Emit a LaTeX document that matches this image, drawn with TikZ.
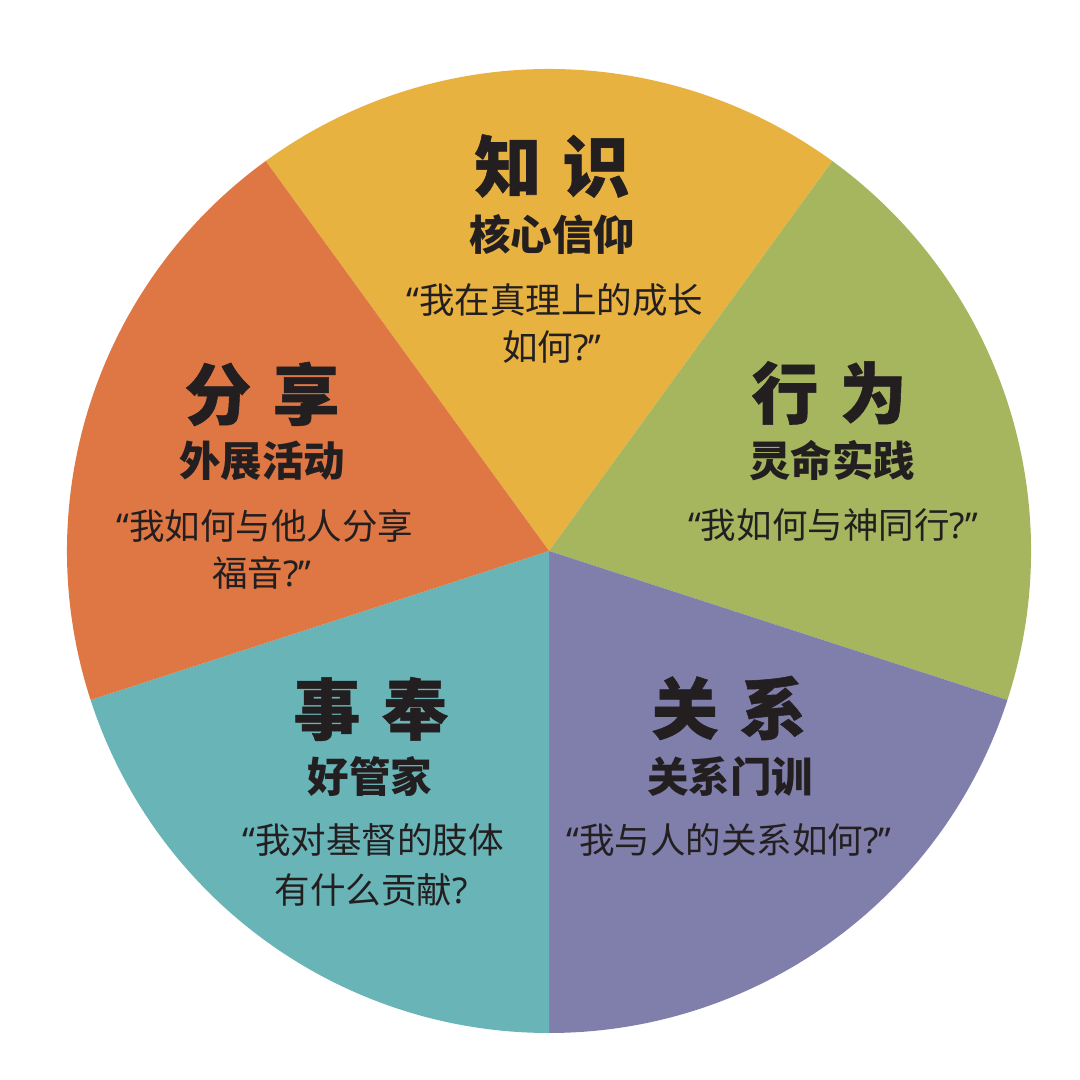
\documentclass[tikz,border=0pt]{standalone}
\usepackage{fontspec}
\setmainfont{Noto Sans CJK SC}
\newfontfamily\heavyfont[BoldFeatures={FakeBold=0.8}]{Noto Sans CJK SC}
\newfontfamily\latinq{Noto Sans}
\definecolor{ink}{HTML}{231F20}
\definecolor{knowC}{HTML}{E8B241}
\definecolor{actC}{HTML}{A5B65E}
\definecolor{relC}{HTML}{807FAC}
\definecolor{servC}{HTML}{69B4B7}
\definecolor{shareC}{HTML}{DE7743}

\begin{document}
\begin{tikzpicture}[x=0.01cm,y=0.01cm,
 ttl/.style={font=\fontsize{19}{22}\selectfont\heavyfont\bfseries,text=ink,inner sep=0pt},
 sub/.style={font=\fontsize{11.8}{14}\selectfont\bfseries,text=ink,inner sep=0pt},
 qt/.style={font=\fontsize{10.1}{14}\selectfont,text=ink,inner sep=0pt}]
\useasboundingbox (0,0) rectangle (1080,1080);
\coordinate (c) at (549,529);
% sectors
\foreach \a/\col in {54/knowC,-18/actC,-90/relC,198/servC,126/shareC}{
 \fill[\col] (c) -- ++(\a:482) arc[start angle=\a,delta angle=72,radius=482] -- cycle;}
% knowledge
\node[ttl] (t1) at (552,914) {知\hspace{0.32em}识};
\node[sub] (s1) at (552,845) {核心信仰};
\node[qt] (q1a) at (555,780) {{\latinq “}我在真理上的成长};
\node[qt] (q1b) at (552,733) {如何{\latinq ?”}};
% behaviour
\node[ttl] (t2) at (829,687) {行\hspace{0.32em}为};
\node[sub] (s2) at (832,619) {灵命实践};
\node[qt] (q2a) at (833,555) {{\latinq “}我如何与神同行{\latinq ?”}};
% relationship
\node[ttl] (t3) at (729,372) {关\hspace{0.32em}系};
\node[sub] (s3) at (730,303) {关系门训};
\node[qt] (q3a) at (729,240) {{\latinq “}我与人的关系如何{\latinq ?”}};
% service
\node[ttl] (t4) at (371,371) {事\hspace{0.32em}奉};
\node[sub] (s4) at (370,303) {好管家};
\node[qt] (q4a) at (373,240) {{\latinq “}我对基督的肢体};
\node[qt] (q4b) at (371,190) {有什么贡献{\latinq ?}};
% sharing
\node[ttl] (t5) at (262,686) {分\hspace{0.32em}享};
\node[sub] (s5) at (262,619) {外展活动};
\node[qt] (q5a) at (265,554) {{\latinq “}我如何与他人分享};
\node[qt] (q5b) at (262,507) {福音{\latinq ?”}};
\end{tikzpicture}
\end{document}
